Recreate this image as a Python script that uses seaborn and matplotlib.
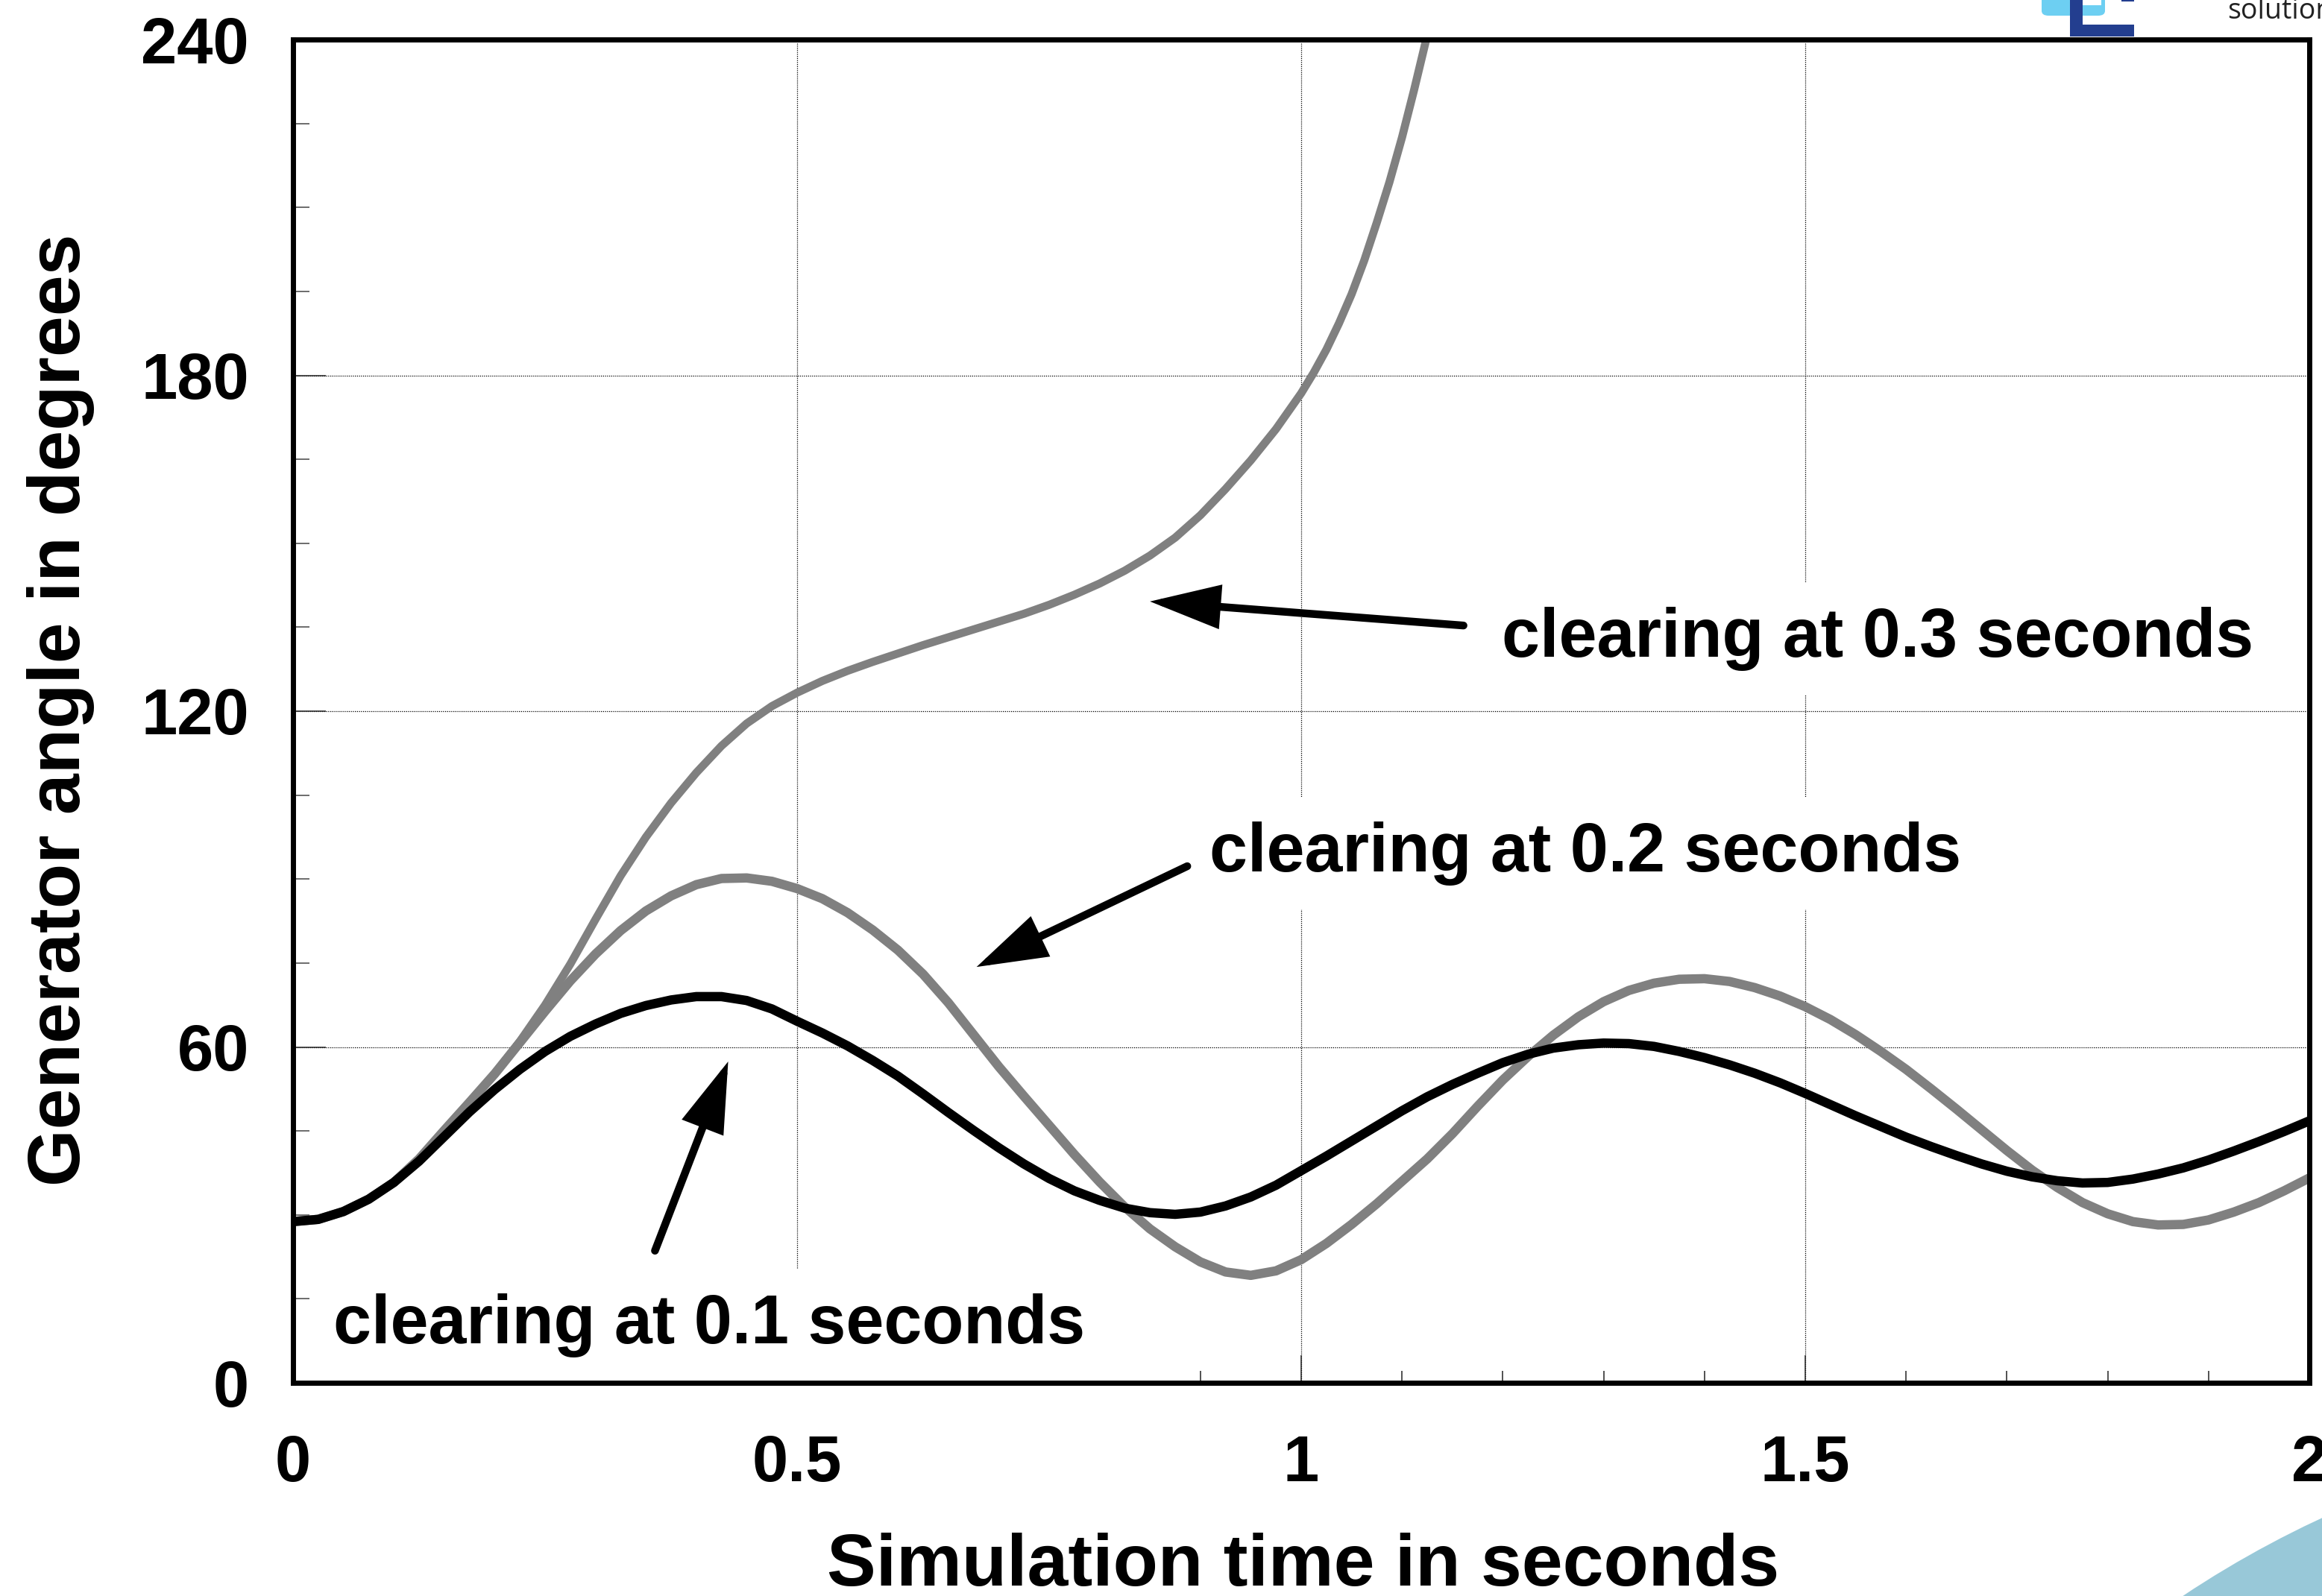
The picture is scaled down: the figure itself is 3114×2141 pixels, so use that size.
import numpy as np
import pandas as pd
import matplotlib
matplotlib.use("Agg")
import matplotlib.pyplot as plt
import seaborn as sns
from matplotlib.patches import FancyBboxPatch, Rectangle, Ellipse
from matplotlib.ticker import MultipleLocator, FixedLocator

# --- rotor angle traces (degrees) for three fault-clearing times ---
t_01 = [0.000, 0.025, 0.050, 0.075, 0.100, 0.125, 0.150, 0.175, 0.200, 0.225,
        0.250, 0.275, 0.300, 0.325, 0.350, 0.375, 0.400, 0.425, 0.450, 0.475,
        0.500, 0.525, 0.550, 0.575, 0.600, 0.625, 0.650, 0.675, 0.700, 0.725,
        0.750, 0.775, 0.800, 0.825, 0.850, 0.875, 0.900, 0.925, 0.950, 0.975,
        1.000, 1.025, 1.050, 1.075, 1.100, 1.125, 1.150, 1.175, 1.200, 1.225,
        1.250, 1.275, 1.300, 1.325, 1.350, 1.375, 1.400, 1.425, 1.450, 1.475,
        1.500, 1.525, 1.550, 1.575, 1.600, 1.625, 1.650, 1.675, 1.700, 1.725,
        1.750, 1.775, 1.800, 1.825, 1.850, 1.875, 1.900, 1.925, 1.950, 1.975,
        2.000]
angle_01 = [28.8, 29.2, 30.6, 32.8, 35.8, 39.6, 44.0, 48.4, 52.4, 56.0,
            59.2, 61.9, 64.1, 66.0, 67.4, 68.4, 69.0, 69.0, 68.3, 66.8,
            64.6, 62.5, 60.2, 57.6, 54.8, 51.6, 48.3, 45.1, 42.0, 39.1,
            36.5, 34.3, 32.6, 31.2, 30.4, 30.1, 30.5, 31.6, 33.2, 35.3,
            37.9, 40.5, 43.2, 45.9, 48.6, 51.1, 53.3, 55.3, 57.2, 58.7,
            59.8, 60.4, 60.7, 60.6, 60.1, 59.2, 58.1, 56.8, 55.3, 53.6,
            51.7, 49.7, 47.7, 45.8, 43.9, 42.2, 40.6, 39.1, 37.8, 36.8,
            36.1, 35.7, 35.8, 36.4, 37.3, 38.4, 39.8, 41.4, 43.1, 44.9,
            46.8]

t_02 = t_01
angle_02 = [28.8, 29.2, 30.6, 32.8, 35.8, 40.0, 45.1, 50.1, 55.2, 60.8,
            66.4, 71.8, 76.6, 80.8, 84.3, 87.0, 89.0, 90.1, 90.2, 89.6,
            88.3, 86.5, 84.0, 80.9, 77.3, 73.0, 67.9, 62.2, 56.5, 51.2,
            46.0, 40.8, 35.9, 31.4, 27.5, 24.3, 21.6, 19.8, 19.2, 20.0,
            22.0, 24.9, 28.3, 32.0, 36.0, 40.0, 44.5, 49.4, 54.1, 58.3,
            62.1, 65.4, 68.1, 70.1, 71.4, 72.1, 72.2, 71.7, 70.6, 69.1,
            67.2, 64.9, 62.2, 59.2, 56.0, 52.5, 48.9, 45.2, 41.5, 38.0,
            34.9, 32.2, 30.2, 28.8, 28.2, 28.3, 29.1, 30.5, 32.2, 34.3,
            36.6]

t_03 = [0.000, 0.025, 0.050, 0.075, 0.100, 0.125, 0.150, 0.175, 0.200, 0.225,
        0.250, 0.275, 0.300, 0.325, 0.350, 0.375, 0.400, 0.425, 0.450, 0.475,
        0.500, 0.525, 0.550, 0.575, 0.600, 0.625, 0.650, 0.675, 0.700, 0.725,
        0.750, 0.775, 0.800, 0.825, 0.850, 0.875, 0.900, 0.925, 0.950, 0.975,
        1.000, 1.0125, 1.025, 1.0375, 1.050, 1.0625, 1.075, 1.0875, 1.100, 1.112,
        1.124]
angle_03 = [28.8, 29.2, 30.6, 32.8, 35.8, 40.0, 45.1, 50.1, 55.2, 61.0,
            67.5, 74.8, 82.8, 90.6, 97.5, 103.6, 109.0, 113.8, 117.8, 120.9,
            123.3, 125.4, 127.2, 128.8, 130.3, 131.8, 133.2, 134.6, 136.0, 137.4,
            139.0, 140.8, 142.8, 145.1, 147.8, 151.0, 155.0, 159.7, 164.8, 170.4,
            176.8, 180.5, 184.6, 189.3, 194.5, 200.5, 207.3, 214.5, 222.5, 231.0,
            240.0]

x_ticks = [0, 0.5, 1, 1.5, 2]
x_tick_labels = ["0", "0.5", "1", "1.5", "2"]
y_ticks = [0, 60, 120, 180, 240]
y_tick_labels = ["0", "60", "120", "180", "240"]

notes = ["clearing at 0.3 seconds", "clearing at 0.2 seconds", "clearing at 0.1 seconds"]
note_pos = [(1.199, 129.7), (0.909, 91.4), (0.040, 7.0)]
arrow_tail = [(1.161, 135.3), (0.887, 92.3), (0.359, 23.6)]
arrow_tip = [(0.850, 139.6), (0.678, 74.3), (0.4316, 57.4)]

# --- styling ---
sns.set_style("ticks")
plt.rcParams["font.family"] = ["Liberation Sans", "DejaVu Sans"]
plt.rcParams["font.weight"] = "bold"
plt.rcParams["text.color"] = "black"
plt.rcParams["axes.labelcolor"] = "black"
plt.rcParams["xtick.color"] = "black"
plt.rcParams["ytick.color"] = "black"

W, H = 3114, 2141
fig = plt.figure(figsize=(W / 100, H / 100), dpi=100)
fig.patch.set_facecolor("white")


def fx(px):
    return px / W


def fy(py):
    return 1 - py / H


# decorative brand elements
fig.add_artist(Ellipse((3700 / W, 1 - 3300 / H), 2 * 1393 / W, 2 * 1393 / H,
                       transform=fig.transFigure, facecolor="#98C8D8",
                       edgecolor="none", zorder=0))
fig.add_artist(FancyBboxPatch((fx(2738), fy(21)), fx(85), 60 / H,
                              boxstyle="round,pad=0,rounding_size=0.003",
                              transform=fig.transFigure, facecolor="#6DCFF2",
                              edgecolor="none", zorder=0))
fig.add_artist(Rectangle((fx(2793), fy(7)), fx(25), 30 / H, transform=fig.transFigure,
                         facecolor="white", edgecolor="none", zorder=0.1))
fig.add_artist(Rectangle((fx(2776), fy(49)), fx(17), 60 / H, transform=fig.transFigure,
                         facecolor="#233E8F", edgecolor="none", zorder=0.2))
fig.add_artist(Rectangle((fx(2776), fy(49)), fx(86), 16 / H, transform=fig.transFigure,
                         facecolor="#233E8F", edgecolor="none", zorder=0.2))
fig.add_artist(Rectangle((fx(2845), fy(2)), fx(17), 10 / H, transform=fig.transFigure,
                         facecolor="#233E8F", edgecolor="none", zorder=0.2))
fig.text(fx(2987), fy(25), "solutions", fontsize=27, fontweight="normal",
         family=["Open Sans", "DejaVu Sans"], color="#222222", ha="left", va="baseline")

ax = fig.add_axes([393 / W, 1 - 1855 / H, (3097 - 393) / W, (1855 - 53) / H])
ax.set_facecolor("white")
ax.set_axisbelow("line")

df01 = pd.DataFrame({"time": t_01, "angle": angle_01})
df02 = pd.DataFrame({"time": t_02, "angle": angle_02})
df03 = pd.DataFrame({"time": t_03, "angle": angle_03})

sns.lineplot(data=df03, x="time", y="angle", color="#808080", linewidth=7.8,
             estimator=None, sort=False, ax=ax, zorder=2)
sns.lineplot(data=df02, x="time", y="angle", color="#808080", linewidth=9.0,
             estimator=None, sort=False, ax=ax, zorder=2.1)
sns.lineplot(data=df01, x="time", y="angle", color="black", linewidth=9.0,
             estimator=None, sort=False, ax=ax, zorder=2.2)
for ln in ax.get_lines():
    ln.set_solid_capstyle("butt")
    ln.set_solid_joinstyle("round")

ax.set_xlim(0, 2)
ax.set_ylim(0, 240)
ax.xaxis.set_major_locator(FixedLocator(x_ticks))
ax.set_xticklabels(x_tick_labels)
ax.yaxis.set_major_locator(FixedLocator(y_ticks))
ax.set_yticklabels(y_tick_labels)
ax.xaxis.set_minor_locator(MultipleLocator(0.1))
ax.yaxis.set_minor_locator(MultipleLocator(15))

ax.tick_params(axis="x", which="major", direction="in", length=27, width=1.1,
               color="#222222", pad=50, labelsize=62.5, labelcolor="black")
ax.tick_params(axis="x", which="minor", direction="in", length=11.5, width=1.1,
               color="#222222")
ax.tick_params(axis="y", which="major", direction="in", length=32, width=1.1,
               color="#222222", pad=42.5, labelsize=62.5, labelcolor="black")
ax.tick_params(axis="y", which="minor", direction="in", length=16, width=1.1,
               color="#444444")
for lab in ax.get_xticklabels() + ax.get_yticklabels():
    lab.set_fontweight("bold")

ax.grid(which="major", color="black", linestyle=(0, (1, 1.2)), linewidth=0.9)

for side in ["left", "right", "top", "bottom"]:
    ax.spines[side].set_visible(True)
    ax.spines[side].set_linewidth(5)
    ax.spines[side].set_color("black")
    ax.spines[side].set_zorder(6)

ax.set_xlabel("Simulation time in seconds", fontsize=71, fontweight="bold", color="black")
ax.set_ylabel("Generator angle in degrees", fontsize=71, fontweight="bold", color="black")
ax.xaxis.label.set_va("baseline")
ax.xaxis.set_label_coords((1748 - 393) / 2704, (1855 - 2127) / 1802)
ax.yaxis.label.set_va("baseline")
ax.yaxis.set_label_coords((107 - 393) / 2704, (1855 - 952) / 1802)

for txt, (tx, ty) in zip(notes, note_pos):
    ax.text(tx, ty, txt, fontsize=66, fontweight="bold", ha="left", va="baseline",
            color="black", zorder=3,
            bbox=dict(boxstyle="square,pad=0.35", facecolor="white", edgecolor="none"))

for tail, tip in zip(arrow_tail, arrow_tip):
    ax.annotate("", xy=tip, xytext=tail, zorder=4,
                arrowprops=dict(arrowstyle="-|>,head_length=0.95,head_width=0.3",
                                mutation_scale=55, color="black", lw=7.5,
                                shrinkA=0, shrinkB=0, joinstyle="miter"))

fig.savefig("out.png", dpi=100, facecolor="white")
